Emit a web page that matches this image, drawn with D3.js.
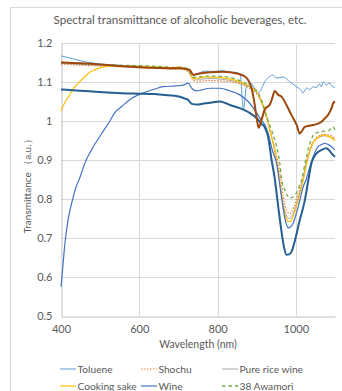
<!DOCTYPE html>
<html lang="en">
  <head>
    <meta charset="UTF-8" />
    <title>Spectral transmittance of alcoholic beverages, etc.</title>
    <script src="https://cdn.jsdelivr.net/npm/d3@7/dist/d3.min.js"></script>
    <style>
      body {
        margin: 0;
        background: #fff;
      }
      text {
        font-family: Lato, "Open Sans", sans-serif;
        fill: #595959;
      }
    </style>
  </head>
  <body>
    <svg width="342" height="391"></svg>
    <script>
      const svg = d3.select("svg");

      // data: [wavelength (nm), transmittance]
      const toluene = [
        [400, 1.167], [420, 1.162], [440, 1.157], [460, 1.152], [480, 1.149],
        [500, 1.146], [530, 1.144], [560, 1.142], [600, 1.14], [640, 1.138],
        [680, 1.136], [700, 1.137], [715, 1.135], [728, 1.13], [738, 1.118],
        [750, 1.122], [770, 1.128], [790, 1.127], [810, 1.129], [830, 1.126],
        [850, 1.124], [858, 1.118], [866, 1.03], [874, 1.09], [885, 1.097],
        [895, 1.082], [902, 1.072], [910, 1.078], [920, 1.1], [930, 1.112],
        [940, 1.118], [952, 1.11], [967, 1.113], [985, 1.1], [1003, 1.087],
        [1012, 1.08], [1018, 1.072], [1028, 1.085], [1035, 1.08], [1044, 1.088],
        [1052, 1.085], [1060, 1.095], [1065, 1.088], [1070, 1.1], [1078, 1.092],
        [1085, 1.098], [1092, 1.09], [1100, 1.086]
      ];
      const shochu = [
        [400, 1.146], [450, 1.143], [500, 1.141], [550, 1.139], [600, 1.137],
        [650, 1.135], [690, 1.132], [710, 1.133], [725, 1.126], [738, 1.105],
        [750, 1.102], [780, 1.104], [810, 1.102], [835, 1.1], [855, 1.096],
        [870, 1.09], [885, 1.082], [900, 1.07], [913, 1.045], [925, 1.01],
        [934, 0.975], [945, 0.935], [955, 0.89], [962, 0.849], [968, 0.806],
        [976, 0.772], [985, 0.763], [995, 0.78], [1006, 0.815], [1017, 0.849],
        [1028, 0.9], [1040, 0.938], [1050, 0.955], [1060, 0.962], [1070, 0.966],
        [1080, 0.965], [1090, 0.962], [1100, 0.955]
      ];
      const pureRiceWine = [
        [400, 1.148], [450, 1.145], [500, 1.143], [550, 1.141], [600, 1.139],
        [650, 1.137], [690, 1.134], [710, 1.135], [725, 1.128], [738, 1.11],
        [750, 1.107], [780, 1.109], [810, 1.107], [850, 1.1], [870, 1.093],
        [885, 1.085], [900, 1.072], [913, 1.048], [925, 1.012], [935, 0.972],
        [945, 0.93], [955, 0.87], [965, 0.8], [975, 0.76], [982, 0.75],
        [992, 0.76], [1005, 0.8], [1018, 0.85], [1030, 0.905], [1045, 0.945],
        [1060, 0.958], [1075, 0.962], [1090, 0.958], [1100, 0.952]
      ];
      const cookingSake = [
        [400, 1.026], [410, 1.048], [419, 1.062], [430, 1.08], [444, 1.097],
        [457, 1.11], [470, 1.122], [483, 1.13], [495, 1.135], [510, 1.139],
        [521, 1.141], [550, 1.142], [600, 1.141], [640, 1.139], [680, 1.137],
        [700, 1.138], [715, 1.135], [728, 1.128], [738, 1.108], [750, 1.11],
        [770, 1.113], [800, 1.112], [830, 1.108], [850, 1.103], [865, 1.097],
        [883, 1.088], [900, 1.075], [913, 1.05], [925, 1.015], [934, 0.975],
        [945, 0.93], [952, 0.89], [958, 0.849], [968, 0.78], [975, 0.752],
        [981, 0.742], [988, 0.745], [993, 0.755], [1006, 0.797], [1019, 0.849],
        [1030, 0.9], [1040, 0.935], [1050, 0.952], [1060, 0.96], [1070, 0.964],
        [1080, 0.962], [1090, 0.958], [1100, 0.95]
      ];
      const wine = [
        [400, 0.575], [405, 0.63], [410, 0.686], [417, 0.74], [423, 0.772],
        [430, 0.8], [436, 0.823], [449, 0.857], [461, 0.892], [478, 0.926],
        [504, 0.968], [525, 1.0], [538, 1.022], [555, 1.037], [576, 1.055],
        [597, 1.067], [619, 1.075], [640, 1.082], [660, 1.088], [695, 1.09],
        [712, 1.092], [725, 1.097], [734, 1.084], [747, 1.077], [760, 1.08],
        [781, 1.084], [806, 1.084], [832, 1.077], [857, 1.067], [878, 1.05],
        [895, 1.028], [913, 1.0], [921, 0.99], [930, 0.965], [940, 0.925],
        [951, 0.89], [957, 0.85], [964, 0.8], [972, 0.75], [981, 0.726],
        [993, 0.738], [1006, 0.78], [1019, 0.832], [1027, 0.852], [1032, 0.87],
        [1044, 0.908], [1057, 0.934], [1066, 0.94], [1074, 0.943], [1082, 0.94],
        [1091, 0.934], [1100, 0.926]
      ];
      const awamori38 = [
        [400, 1.15], [450, 1.147], [500, 1.145], [550, 1.143], [600, 1.142],
        [650, 1.14], [690, 1.137], [710, 1.138], [725, 1.132], [738, 1.112],
        [750, 1.113], [780, 1.115], [815, 1.114], [840, 1.11], [865, 1.1],
        [883, 1.09], [900, 1.077], [913, 1.052], [925, 1.011], [938, 0.977],
        [951, 0.934], [959, 0.892], [964, 0.849], [972, 0.823], [980, 0.806],
        [985, 0.802], [992, 0.805], [998, 0.81], [1006, 0.827], [1015, 0.849],
        [1025, 0.9], [1035, 0.94], [1049, 0.968], [1066, 0.973], [1083, 0.975],
        [1095, 0.985], [1100, 0.975]
      ];
      // two more series whose legend entries are cut off in the picture
      const series7 = [
        [400, 1.081], [430, 1.079], [460, 1.077], [487, 1.075], [520, 1.073],
        [555, 1.071], [600, 1.07], [640, 1.069], [660, 1.067], [690, 1.065],
        [704, 1.062], [715, 1.058], [725, 1.054], [734, 1.044], [747, 1.042],
        [765, 1.045], [781, 1.047], [806, 1.05], [820, 1.046], [832, 1.041],
        [857, 1.033], [883, 1.02], [900, 1.007], [913, 0.992], [921, 0.983],
        [929, 0.96], [938, 0.9], [946, 0.853], [955, 0.78], [964, 0.712],
        [970, 0.675], [976, 0.657], [983, 0.658], [989, 0.665], [998, 0.695],
        [1010, 0.746], [1023, 0.797], [1032, 0.849], [1040, 0.892], [1053, 0.917],
        [1066, 0.926], [1078, 0.93], [1085, 0.925], [1091, 0.917], [1100, 0.908]
      ];
      const series8 = [
        [400, 1.15], [450, 1.148], [500, 1.145], [550, 1.141], [600, 1.138],
        [650, 1.136], [686, 1.135], [705, 1.135], [718, 1.133], [729, 1.131],
        [738, 1.118], [745, 1.12], [755, 1.122], [781, 1.125], [815, 1.126],
        [849, 1.122], [870, 1.114], [878, 1.105], [887, 1.084], [895, 1.041],
        [901, 1.0], [905, 0.983], [908, 0.988], [913, 1.005], [921, 1.03],
        [934, 1.043], [940, 1.06], [946, 1.077], [955, 1.067], [964, 1.062],
        [976, 1.041], [989, 1.015], [1002, 0.99], [1010, 0.968], [1016, 0.975],
        [1023, 0.985], [1035, 0.988], [1044, 0.99], [1053, 0.992], [1061, 0.995],
        [1068, 1.0], [1074, 1.007], [1082, 1.015], [1087, 1.024], [1092, 1.035],
        [1095, 1.045], [1100, 1.05]
      ];

      const xTicks = [400, 600, 800, 1000];
      const yTicks = [0.5, 0.6, 0.7, 0.8, 0.9, 1, 1.1, 1.2];

      // drawing order: thick lines last so they sit on top like in Excel
      const series = [
        { name: "Toluene", data: toluene, color: "#5B9BD5", width: 1, dash: null, legend: true },
        { name: "Shochu", data: shochu, color: "#ED7D31", width: 1.2, dash: "1.5,1.5", legend: true },
        { name: "Pure rice wine", data: pureRiceWine, color: "#A5A5A5", width: 1, dash: null, legend: true },
        { name: "Cooking sake", data: cookingSake, color: "#FFC000", width: 1.2, dash: null, legend: true },
        { name: "Wine", data: wine, color: "#4472C4", width: 1.2, dash: null, legend: true },
        { name: "38 Awamori", data: awamori38, color: "#70AD47", width: 1.3, dash: "3.5,3", legend: true },
        { name: "series7", data: series7, color: "#255E91", width: 2, dash: null, legend: false },
        { name: "series8", data: series8, color: "#9E480E", width: 2, dash: null, legend: false }
      ];

      const margin = { left: 61, right: 335, top: 43, bottom: 316 };
      const x = d3.scaleLinear().domain([400, 1100]).range([margin.left, margin.right]);
      const y = d3.scaleLinear().domain([0.5, 1.2]).range([margin.bottom, margin.top]);

      // chart frame
      svg
        .append("rect")
        .attr("x", 10.5)
        .attr("y", 7.5)
        .attr("width", 340)
        .attr("height", 400)
        .attr("fill", "none")
        .attr("stroke", "#D9D9D9");

      // title
      svg
        .append("text")
        .attr("x", 180)
        .attr("y", 24)
        .attr("text-anchor", "middle")
        .style("font-size", "11.6px")
        .text("Spectral transmittance of alcoholic beverages, etc.");

      // gridlines
      const grid = svg.append("g");
      grid
        .selectAll("line.h")
        .data(yTicks.slice(1))
        .enter()
        .append("line")
        .attr("x1", margin.left)
        .attr("x2", margin.right)
        .attr("y1", (d) => Math.round(y(d)) + 0.5)
        .attr("y2", (d) => Math.round(y(d)) + 0.5)
        .attr("stroke", "#D9D9D9");
      grid
        .selectAll("line.v")
        .data(xTicks.slice(1))
        .enter()
        .append("line")
        .attr("x1", (d) => Math.round(x(d)) + 0.5)
        .attr("x2", (d) => Math.round(x(d)) + 0.5)
        .attr("y1", margin.top)
        .attr("y2", margin.bottom)
        .attr("stroke", "#D9D9D9");

      // axes
      const xAxis = svg
        .append("g")
        .attr("transform", `translate(0,${Math.round(y(0.5)) + 0.5})`)
        .call(d3.axisBottom(x).tickValues(xTicks).tickSize(0).tickPadding(9).tickFormat(d3.format("d")));
      const yAxis = svg
        .append("g")
        .attr("transform", `translate(${Math.round(x(400)) + 0.5},0)`)
        .call(
          d3.axisLeft(y).tickValues(yTicks).tickSize(0).tickPadding(9)
            .tickFormat((d) => (d === 1 ? "1" : d3.format(".1f")(d)))
        );
      [xAxis, yAxis].forEach((a) => {
        a.select(".domain").attr("stroke", "#BFBFBF");
        a.selectAll("text").style("font-size", "11px").attr("fill", "#595959").style("font-family", "Lato, sans-serif");
      });

      // axis titles
      svg
        .append("text")
        .attr("x", 198)
        .attr("y", 348)
        .attr("text-anchor", "middle")
        .style("font-size", "10.5px")
        .text("Wavelength (nm)");
      svg
        .append("text")
        .attr("transform", "translate(31,184) rotate(-90)")
        .attr("text-anchor", "middle")
        .style("font-size", "10px")
        .text("Transmittance （a.u.）");

      // lines
      const line = d3
        .line()
        .x((d) => x(d[0]))
        .y((d) => y(d[1]))
        .curve(d3.curveMonotoneX);

      svg
        .append("g")
        .selectAll("path")
        .data(series)
        .enter()
        .append("path")
        .attr("d", (d) => line(d.data))
        .attr("fill", "none")
        .attr("stroke", (d) => d.color)
        .attr("stroke-width", (d) => d.width)
        .attr("stroke-dasharray", (d) => d.dash)
        .attr("stroke-linejoin", "round");

      // legend, three per row
      const legendItems = series.filter((s) => s.legend);
      const legend = svg
        .append("g")
        .selectAll("g")
        .data(legendItems)
        .enter()
        .append("g")
        .attr("transform", (d, i) => `translate(${60 + (i % 3) * 81},${369 + Math.floor(i / 3) * 17})`);
      legend
        .append("line")
        .attr("x1", 0)
        .attr("x2", 16)
        .attr("stroke", (d) => d.color)
        .attr("stroke-width", (d) => d.width)
        .attr("stroke-dasharray", (d) => d.dash);
      legend
        .append("text")
        .attr("x", 17.5)
        .attr("dy", "0.35em")
        .style("font-size", "10.2px")
        .text((d) => d.name);
    </script>
  </body>
</html>
